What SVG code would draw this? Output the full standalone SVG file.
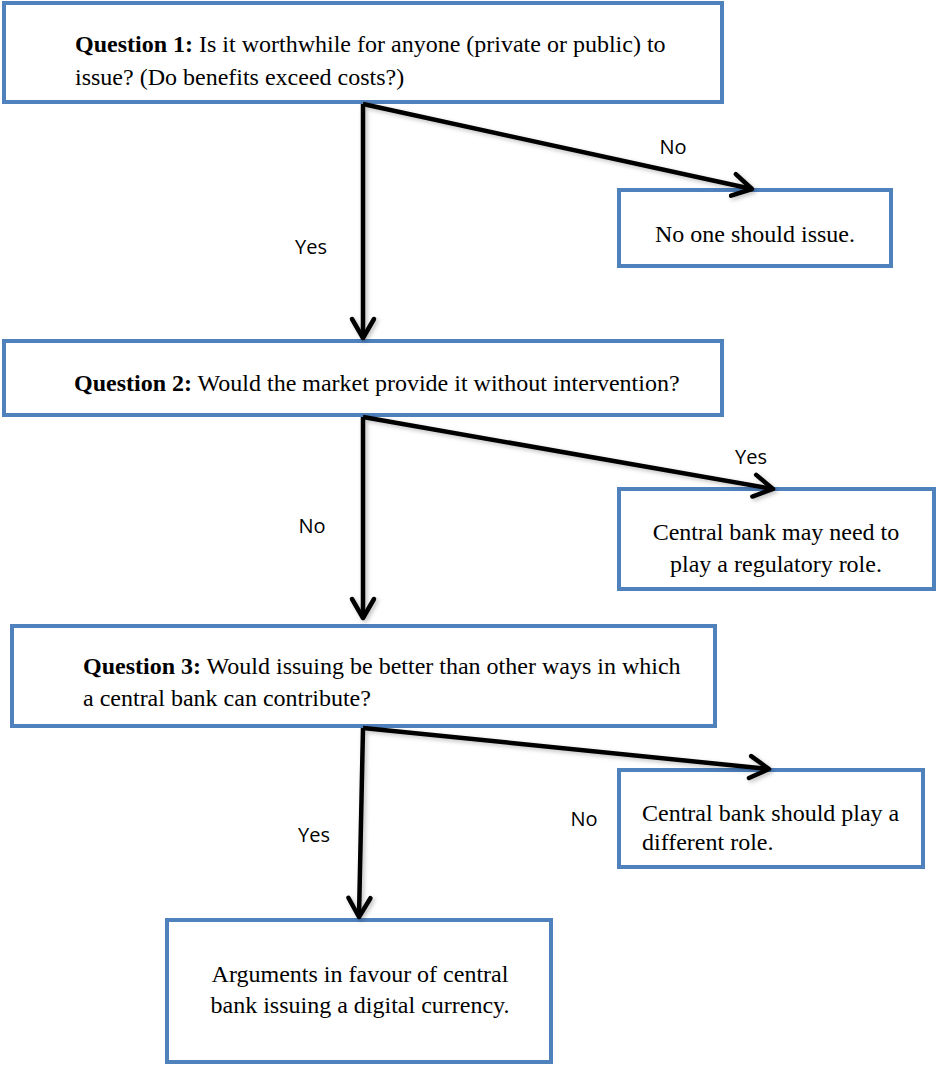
<svg xmlns="http://www.w3.org/2000/svg" width="936" height="1065" viewBox="0 0 936 1065">
<defs>
<style>
.box{fill:#fff;stroke:#4F81BD;stroke-width:4}
.t{font-family:"Liberation Serif","Times New Roman",serif;font-size:24px;fill:#000}
.b{font-weight:bold}
.lbl{font-family:"Open Sans","Liberation Sans",sans-serif;font-size:20px;fill:#000;text-anchor:middle}
.con{fill:none;stroke:#000;stroke-width:4.5;stroke-linejoin:miter}
</style>
<marker id="arr" viewBox="-24 -15 28 30" markerWidth="28" markerHeight="30" refX="0" refY="0" orient="auto" markerUnits="userSpaceOnUse" overflow="visible">
<path d="M-19,-11 L0,0 L-19,11" fill="none" stroke="#000" stroke-width="4.5" stroke-linecap="round" stroke-linejoin="round"/>
</marker>
<filter id="sh" x="-5%" y="-5%" width="110%" height="110%">
<feDropShadow dx="2" dy="2" stdDeviation="2" flood-color="#000" flood-opacity="0.25"/>
</filter>
</defs>
<rect width="936" height="1065" fill="#fff"/>

<g id="q1">
<rect class="box" x="4" y="3" width="718" height="99"/>
<text class="t" x="75" y="52"><tspan class="b">Question 1:</tspan> Is it worthwhile for anyone (private or public) to</text>
<text class="t" x="75" y="85">issue? (Do benefits exceed costs?)</text>
</g>

<g id="noone">
<rect class="box" x="619" y="190" width="272" height="76"/>
<text class="t" x="755" y="242" text-anchor="middle">No one should issue.</text>
</g>

<g id="q2">
<rect class="box" x="4" y="341" width="718" height="74"/>
<text class="t" x="74" y="391"><tspan class="b">Question 2:</tspan> Would the market provide it without intervention?</text>
</g>

<g id="regulatory">
<rect class="box" x="619" y="489" width="315" height="100"/>
<text class="t" x="776" y="540" text-anchor="middle">Central bank may need to</text>
<text class="t" x="776" y="572" text-anchor="middle">play a regulatory role.</text>
</g>

<g id="q3">
<rect class="box" x="12" y="626" width="703" height="100"/>
<text class="t" x="83" y="674"><tspan class="b">Question 3:</tspan> Would issuing be better than other ways in which</text>
<text class="t" x="83" y="706">a central bank can contribute?</text>
</g>

<g id="different">
<rect class="box" x="619" y="770" width="304" height="97"/>
<text class="t" x="642" y="821">Central bank should play a</text>
<text class="t" x="642" y="850">different role.</text>
</g>

<g id="arguments">
<rect class="box" x="167" y="920" width="384" height="142"/>
<text class="t" x="360" y="982" text-anchor="middle">Arguments in favour of central</text>
<text class="t" x="360" y="1013" text-anchor="middle">bank issuing a digital currency.</text>
</g>

<g id="connectors" filter="url(#sh)">
<path class="con" d="M363,104 L363,338" marker-end="url(#arr)"/>
<path class="con" d="M363,104 L752,189" marker-end="url(#arr)"/>
<path class="con" d="M363,417 L363,618" marker-end="url(#arr)"/>
<path class="con" d="M363,417 L773,489" marker-end="url(#arr)"/>
<path class="con" d="M363,728 L359,917" marker-end="url(#arr)"/>
<path class="con" d="M363,728 L769,769" marker-end="url(#arr)"/>
</g>

<g id="labels">
<text class="lbl" x="673" y="154">No</text>
<text class="lbl" x="311" y="254">Yes</text>
<text class="lbl" x="751" y="464">Yes</text>
<text class="lbl" x="312" y="533">No</text>
<text class="lbl" x="314" y="842">Yes</text>
<text class="lbl" x="584" y="826">No</text>
</g>
</svg>
